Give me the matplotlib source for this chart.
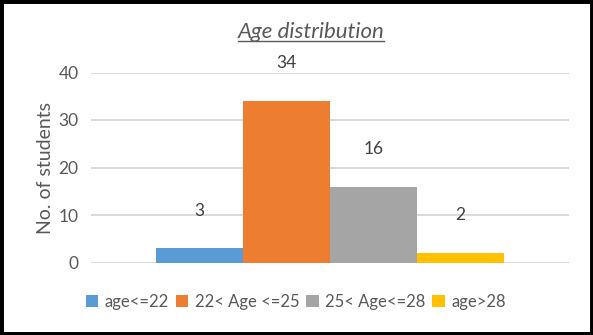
import matplotlib
matplotlib.use("Agg")
import matplotlib.pyplot as plt
from matplotlib.lines import Line2D
from matplotlib.patches import Rectangle, Patch

categories = ["age<=22", "22< Age <=25", "25< Age<=28", "age>28"]
counts = [3, 34, 16, 2]
colors = ["#5B9BD5", "#ED7D31", "#A5A5A5", "#FFC000"]
yticks = [0, 10, 20, 30, 40]

plt.rcParams["font.family"] = ["Lato", "DejaVu Sans"]
text_color = "#595959"

fig = plt.figure(figsize=(5.93, 3.35), dpi=100)
W, H = 593, 335
ax = fig.add_axes([91 / W, 1 - 262.5 / H, (569 - 91) / W, (262.5 - 72.5) / H])

x = list(range(len(counts)))
bars = ax.bar(x, counts, width=1.0, color=colors, zorder=3)
ax.set_xlim(-1.25, 4.25)
ax.set_ylim(0, 40)
ax.set_yticks(yticks)
ax.set_xticks([])
ax.grid(axis="y", color="#D9D9D9", linewidth=1.4, zorder=0)
for s in ax.spines.values():
    s.set_visible(False)
ax.tick_params(axis="y", length=0, pad=9, labelsize=12.5, labelcolor=text_color)
ax.set_ylabel("No. of students", fontsize=14, color=text_color, labelpad=3)

for xi, v in zip(x, counts):
    ax.annotate(str(v), (xi, v), xytext=(0, 27), textcoords="offset points",
                ha="center", va="center", fontsize=12.5, color="#404040")

# title with underline
title = fig.text(311 / W, 1 - 32 / H, "Age distribution", ha="center", va="center",
                 fontsize=16, style="italic", color=text_color)
fig.canvas.draw()
bb = title.get_window_extent()
yline = bb.y0 + 1
fig.add_artist(Line2D([bb.x0 / W, bb.x1 / W], [yline / H, yline / H],
                      transform=fig.transFigure, color=text_color, linewidth=1))

handles = [Patch(facecolor=c) for c in colors]
fig.legend(handles, categories, loc="center", bbox_to_anchor=(296 / W, 1 - 302 / H),
           ncol=4, frameon=False, fontsize=12, labelcolor=text_color,
           handlelength=0.75, handleheight=0.75, handletextpad=0.4, columnspacing=0.4)

# outer border
fig.add_artist(Rectangle((0, 0), 1, 1, transform=fig.transFigure, fill=False,
                         edgecolor="black", linewidth=5))

fig.savefig("out.png", dpi=100)
